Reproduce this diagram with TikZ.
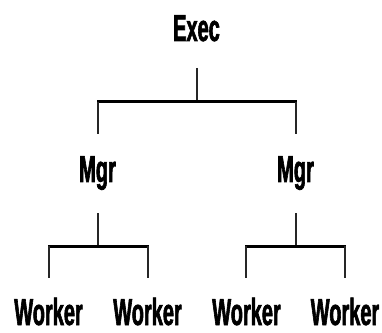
\documentclass[tikz,border=0pt]{standalone}
\usepackage{fontspec}
\setmainfont{Liberation Sans}[FakeStretch=0.53,BoldFeatures={FakeBold=1.6}]
\begin{document}
\begin{tikzpicture}[x=1pt,y=1pt,
  label/.style={anchor=base,inner sep=0pt,font=\bfseries\fontsize{37.7}{40}\selectfont},
  stem/.style={line width=1.8pt,black!85},
  bar/.style={line width=3pt,black,line cap=butt}]
\useasboundingbox (0,0) rectangle (382,332);

% labels
\node[label] (exec) at (196.5,291) {Exec};
\node[label] (mgrL) at (97.5,150) {Mgr};
\node[label] (mgrR) at (295.5,150) {Mgr};
\node[label] (w1) at (48.5,7) {Worker};
\node[label] (w2) at (147.5,7) {Worker};
\node[label] (w3) at (246.5,7) {Worker};
\node[label] (w4) at (345,7) {Worker};

% junction points
\coordinate (top) at (197,230);
\coordinate (topL) at (98,230);
\coordinate (topR) at (296,230);
\coordinate (dropL) at (98,198);
\coordinate (dropR) at (296,198);
\coordinate (lbar) at (98,86);
\coordinate (lbarL) at (49,86);
\coordinate (lbarR) at (148,86);
\coordinate (rbar) at (296,86);
\coordinate (rbarL) at (246,86);
\coordinate (rbarR) at (345,86);
\coordinate (d1) at (49,54);
\coordinate (d2) at (148,54);
\coordinate (d3) at (246,54);
\coordinate (d4) at (345,54);

% Exec level
\draw[stem] ([xshift=0.5pt,yshift=-27pt]exec.base) -- (top);
\draw[bar] ([xshift=-0.9pt]topL) -- ([xshift=0.9pt]topR);
\draw[stem] (topL) -- (dropL);
\draw[stem] (topR) -- (dropR);

% Manager level
\draw[stem] ([xshift=0.5pt,yshift=-31pt]mgrL.base) -- (lbar);
\draw[stem] ([xshift=0.5pt,yshift=-31pt]mgrR.base) -- (rbar);
\draw[bar] ([xshift=-0.9pt]lbarL) -- ([xshift=0.9pt]lbarR);
\draw[bar] ([xshift=-0.9pt]rbarL) -- ([xshift=0.9pt]rbarR);
\draw[stem] (lbarL) -- (d1);
\draw[stem] (lbarR) -- (d2);
\draw[stem] (rbarL) -- (d3);
\draw[stem] (rbarR) -- (d4);
\end{tikzpicture}
\end{document}
